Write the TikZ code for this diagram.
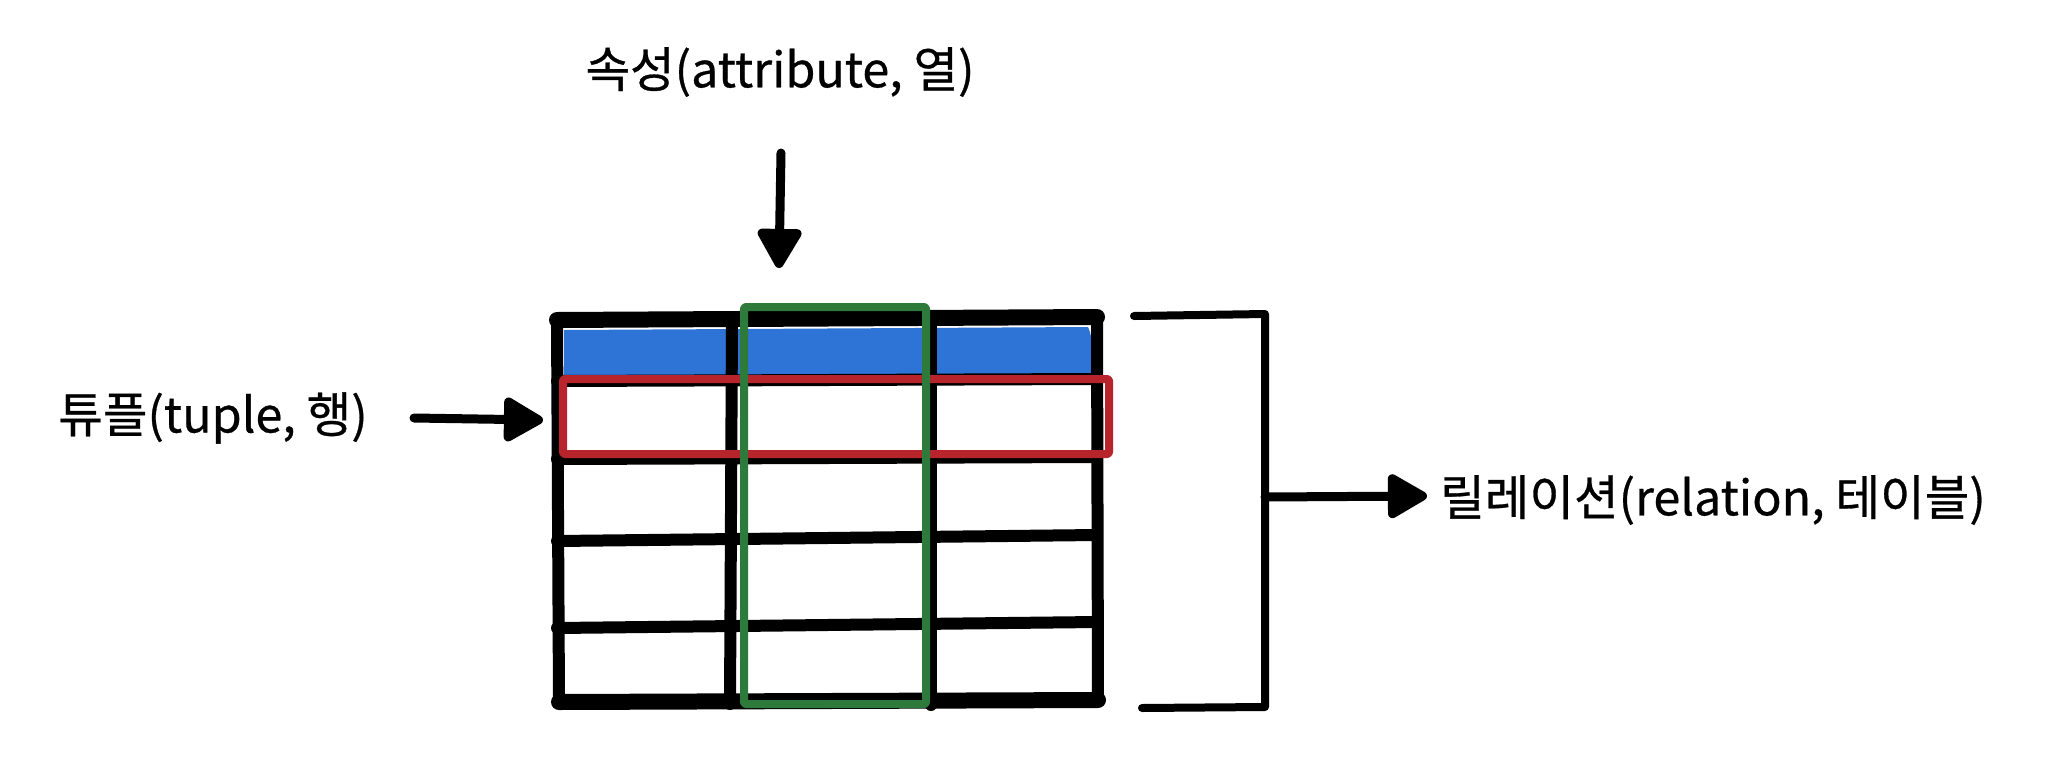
\documentclass[tikz,border=0pt]{standalone}
\usepackage{fontspec}
\setmainfont{Noto Sans CJK KR}[FakeBold=0.6]
\usetikzlibrary{arrows.meta}
\definecolor{hdrblue}{RGB}{46,115,214}
\definecolor{rowred}{RGB}{183,36,44}
\definecolor{colgreen}{RGB}{45,122,58}
\begin{document}
\begin{tikzpicture}[x=1pt,y=-1pt,
  gridline/.style={line width=12pt, line cap=round, line join=round},
  thickline/.style={line width=16pt, line cap=round, line join=round},
  lbl/.style={font=\fontsize{48.5}{58}\selectfont, inner sep=0pt},
  arr/.style={line width=9pt, line cap=round, -{Triangle[length=44pt,width=48pt,round]}},
  bracketline/.style={line width=8pt, line cap=round, line join=round},
  hilite/.style={line width=8pt, line join=round, rounded corners=2pt}]
\useasboundingbox (0,0) rectangle (2062,780);
% header fill
\fill[hdrblue] (564,330) -- (1088,327) .. controls (1094,340) and (1094,365) .. (1090,376) -- (564,379) -- cycle;
% table grid
\draw[thickline] (557,320) -- (1097,317);
\draw[thickline] (559,702) -- (1098,700);
\draw[gridline] (557,320) -- (559,702);
\draw[gridline] (1097,317) -- (1098,700);
\draw[gridline] (732,320) -- (730,704);
\draw[gridline] (931,318) -- (931,705);
\draw[gridline] (557,381) -- (1097,379);
\draw[gridline] (557,459) -- (1097,457);
\draw[gridline] (557,541) -- (1097,535);
\draw[gridline] (557,628) -- (1097,622);
% tuple highlight
\draw[rowred, hilite] (563,379) rectangle (1109,454);
% attribute highlight
\draw[colgreen, hilite] (744,307) rectangle (926,704);
% bracket
\draw[bracketline] (1134,316) -- (1265,314) -- (1265,707) -- (1142,708);
% labels
\node[lbl] (attr) at (780,72) {속성(attribute, 열)};
\node[lbl] (tuple) at (213,418) {튜플(tuple, 행)};
\node[lbl, anchor=west] (rel) at (1440,500) {릴레이션(relation, 테이블)};
% arrows
\coordinate (attrS) at (781,153);
\coordinate (attrE) at (779,268);
\coordinate (tupS) at (414,418);
\coordinate (tupE) at (543,420);
\coordinate (relS) at (1265,497);
\coordinate (relE) at (1427,496);
\draw[arr] (attrS) -- (attrE);
\draw[arr] (tupS) -- (tupE);
\draw[arr] (relS) -- (relE);
\end{tikzpicture}
\end{document}
